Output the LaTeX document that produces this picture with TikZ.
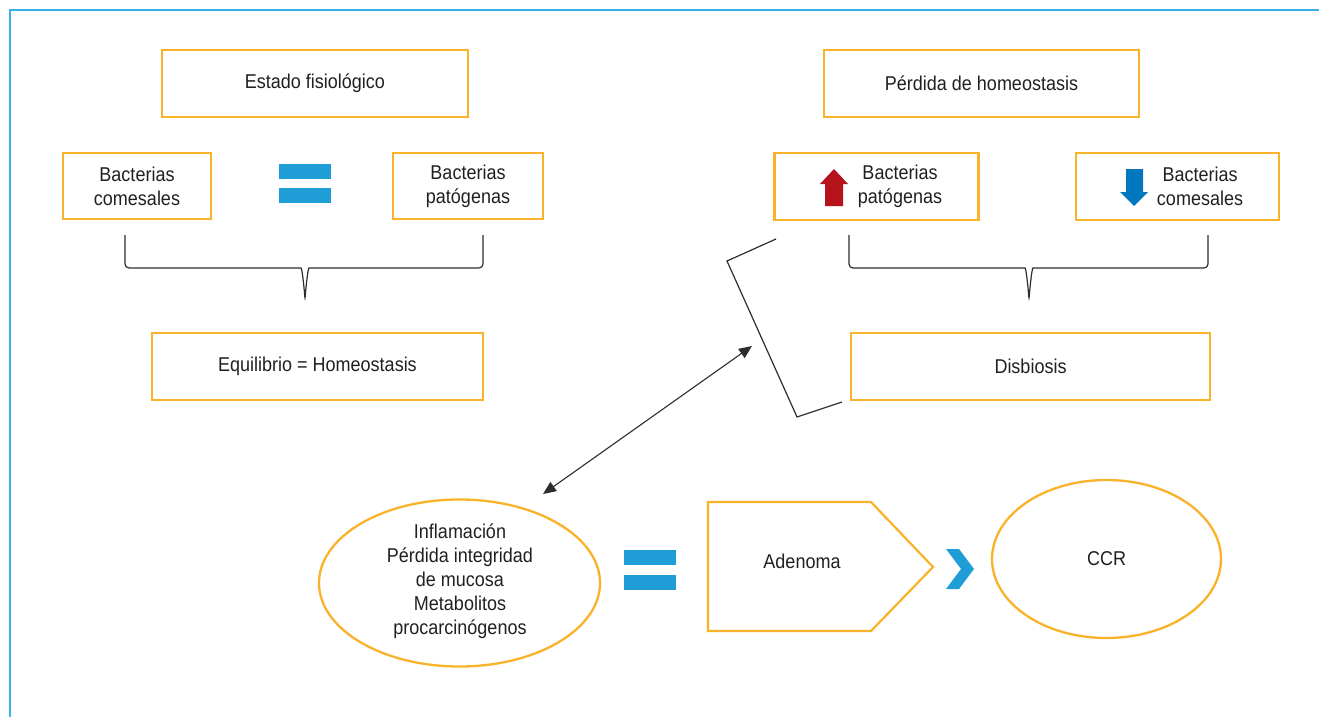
\documentclass[tikz,border=0pt]{standalone}
\usepackage{fontspec}
\setmainfont{Liberation Sans}[FakeStretch=0.9]
\usetikzlibrary{shapes.geometric,arrows.meta}
\definecolor{frameblue}{RGB}{58,176,232}
\definecolor{boxorange}{RGB}{249,178,41}
\definecolor{eqblue}{RGB}{31,157,215}
\definecolor{upred}{RGB}{181,18,27}
\definecolor{downblue}{RGB}{0,119,191}
\definecolor{ink}{RGB}{35,31,32}
\definecolor{linegray}{RGB}{45,45,45}

\begin{document}
\begin{tikzpicture}[x=1pt,y=-1pt,
  every node/.style={text=ink,font=\fontsize{20}{24}\selectfont},
  box/.style={draw=boxorange,line width=2.5pt,inner sep=0pt,align=center},
  oval/.style={ellipse,draw=boxorange,line width=2.3pt,inner sep=0pt,align=center},
  label/.style={inner sep=0pt,align=center},
  brace/.style={draw=linegray,line width=1.2pt,rounded corners=4pt},
  bracket/.style={draw=linegray,line width=1.2pt},
  link/.style={draw=linegray,line width=1.1pt,{Triangle[length=13pt,width=11pt]}-{Triangle[length=13pt,width=11pt]}},
]
\useasboundingbox (0,0) rectangle (1319,717);

% outer frame (top and left edges)
\draw[frameblue,line width=2pt] (10,717) -- (10,10) -- (1319,10);

% ---- physiological state ----
\node[box,minimum width=306pt,minimum height=67pt] (estado) at (315,83.5) {Estado fisiológico};
\node[box,minimum width=148pt,minimum height=66pt] (comL) at (137,186) {Bacterias\\comesales};
\node[box,minimum width=150pt,minimum height=66pt] (patL) at (468,186) {Bacterias\\patógenas};
\fill[eqblue] (279,164) rectangle (331,179);
\fill[eqblue] (279,188) rectangle (331,203);

\draw[brace] (125,235) -- (125,268) -- (297,268)
  .. controls (302,268) and (304,286) .. (305,300)
  .. controls (306,286) and (308,268) .. (313,268)
  -- (483,268) -- (483,235);

\node[box,minimum width=331pt,minimum height=67pt] (equil) at (317.5,366.5) {Equilibrio = Homeostasis};

% ---- loss of homeostasis ----
\node[box,minimum width=315pt,minimum height=67pt] (perdida) at (981.5,83.5) {Pérdida de homeostasis};
\node[box,minimum width=204pt,minimum height=67pt] (patR) at (876.5,186.5) {};
\node[label] (patRtxt) at (900,186) {Bacterias\\patógenas};
\fill[upred] (834,169) -- (848,184) -- (843,184) -- (843,206) -- (825,206) -- (825,184) -- (820,184) -- cycle;
\node[box,minimum width=203pt,minimum height=67pt] (comR) at (1177.5,186.5) {};
\node[label] (comRtxt) at (1200,186) {Bacterias\\comesales};
\fill[downblue] (1134,206) -- (1148,192) -- (1143,192) -- (1143,169) -- (1126,169) -- (1126,192) -- (1120,192) -- cycle;

\draw[brace] (849,235) -- (849,268) -- (1021,268)
  .. controls (1026,268) and (1028,286) .. (1029,300)
  .. controls (1030,286) and (1032,268) .. (1037,268)
  -- (1208,268) -- (1208,235);

\node[box,minimum width=359pt,minimum height=67pt] (disb) at (1030.5,366.5) {Disbiosis};

% bracket grouping the right-hand column
\draw[bracket] (776,239) -- (727,261) -- (797,417) -- (842,402);
\coordinate (bk) at (752,346);

% ---- consequences ----
\node[oval,minimum width=281pt,minimum height=167pt] (infl) at (459.5,583) {};
\node[label] (infltxt) at (460,581) {Inflamación\\Pérdida integridad\\de mucosa\\Metabolitos\\procarcinógenos};
\coordinate (inflTop) at (543,494);
\draw[link] (inflTop) -- (bk);

\fill[eqblue] (624,550) rectangle (676,565);
\fill[eqblue] (624,575) rectangle (676,590);

\draw[boxorange,line width=2.2pt] (708,502) -- (871,502) -- (933,567) -- (871,631) -- (708,631) -- cycle;
\node[label] (aden) at (802,561) {Adenoma};

\fill[eqblue] (946,549) -- (959,549) -- (974,569) -- (959,589) -- (946,589) -- (961,569) -- cycle;

\node[oval,minimum width=229pt,minimum height=158pt] (ccr) at (1106.5,559) {CCR};
\end{tikzpicture}
\end{document}
